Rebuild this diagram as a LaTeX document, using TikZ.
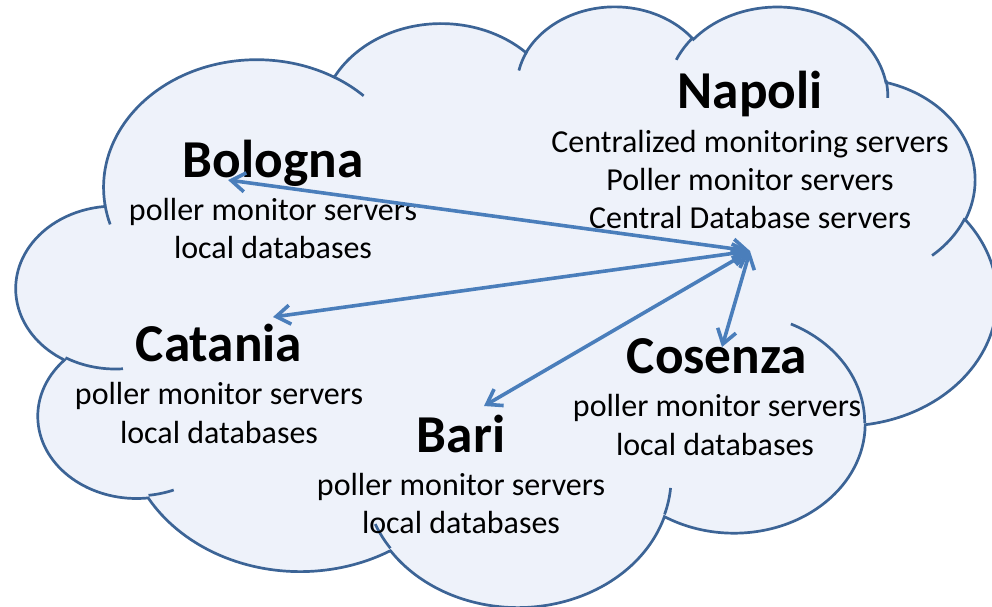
\documentclass[tikz,border=0pt]{standalone}
\usepackage{fontspec}
\setmainfont{Carlito}
\usetikzlibrary{arrows.meta}
\definecolor{cloudfill}{RGB}{238,242,250}
\definecolor{cloudline}{RGB}{60,100,150}
\definecolor{linkblue}{RGB}{74,126,187}
\tikzset{
  ooarc/.style n args={4}{x radius=#1, y radius=#2,
    start angle={atan2((#1)*sin(#3),(#2)*cos(#3))},
    delta angle={mod(atan2((#1)*sin((#3)+(#4)),(#2)*cos((#3)+(#4)))-atan2((#1)*sin(#3),(#2)*cos(#3))+720,360)}},
  cloudbody/.style={fill=cloudfill, draw=cloudline, line width=2.7pt},
  cloudstub/.style={draw=cloudline, line width=2.7pt},
  sitetitle/.style={anchor=base, inner sep=0pt, font=\fontsize{53.3}{64}\selectfont\bfseries},
  siteline/.style={anchor=base, inner sep=0pt, font=\fontsize{32}{39}\selectfont},
  barb/.tip={Straight Barb[length=14pt,width=19pt]},
  link/.style={draw=linkblue, line width=3.6pt, barb-barb}
}
\begin{document}
\begin{tikzpicture}[x=1pt, y=-1pt]
\useasboundingbox (0,0) rectangle (992,606);
\begin{scope}[shift={(16.5,4.9)}, x=22.69pt, y=-13.9pt]
\path[cloudbody] (3.900,14.370)
 arc[ooarc={6.753}{9.190}{-190.4875}{123.7805}]
 arc[ooarc={5.333}{7.267}{-144.1024}{89.9452}]
 arc[ooarc={4.365}{5.945}{-145.8079}{99.7230}]
 arc[ooarc={4.857}{6.595}{-130.9861}{117.2417}]
 arc[ooarc={5.333}{7.273}{-78.7089}{109.0269}]
 arc[ooarc={6.775}{9.220}{-46.2673}{130.2690}]
 arc[ooarc={5.785}{7.867}{0.6250}{114.0333}]
 arc[ooarc={6.752}{9.215}{22.4516}{115.1726}]
 arc[ooarc={7.720}{10.543}{66.2426}{75.7110}]
 arc[ooarc={4.360}{5.918}{-274.9421}{146.7356}]
 arc[ooarc={4.345}{5.945}{-246.8285}{152.5189}]
 -- cycle;
\path[cloudstub]
 (4.693,26.177) arc[ooarc={4.345}{5.945}{86.742}{26.4295}]
 (6.928,34.899) arc[ooarc={4.360}{5.918}{73.6105}{11.4475}]
 (16.478,39.090) arc[ooarc={6.752}{9.215}{137.6241}{14.0811}]
 (28.827,34.751) arc[ooarc={6.752}{9.215}{6.4533}{15.9984}]
 (34.129,22.954) arc[ooarc={5.785}{7.867}{-70.2924}{70.9174}]
 (41.798,15.354) arc[ooarc={5.333}{7.273}{30.3180}{27.7515}]
 (38.324,5.426) arc[ooarc={4.857}{6.595}{-13.7443}{14.8589}]
 (29.078,3.952) arc[ooarc={4.857}{6.595}{-149.1815}{18.1954}]
 (22.141,4.720) arc[ooarc={4.365}{5.945}{-163.4943}{17.6864}]
 (14.000,5.192) arc[ooarc={6.753}{9.190}{-66.7070}{12.3194}]
 (4.127,15.789) arc[ooarc={6.753}{9.190}{157.6544}{11.8582}];
\end{scope}
% Napoli
\node[sitetitle] (napT) at (750,108) {Napoli};
\node[siteline] (nap1) at (750,152) {Centralized monitoring servers};
\node[siteline] (nap2) at (750,190) {Poller monitor servers};
\node[siteline] (nap3) at (750,228) {Central Database servers};
% Bologna
\node[sitetitle] (bolT) at (273,177) {Bologna};
\node[siteline] (bol1) at (273,220) {poller monitor servers};
\node[siteline] (bol2) at (273,258.5) {local databases};
% Catania
\node[sitetitle] (catT) at (219,361) {Catania};
\node[siteline] (cat1) at (219,404.5) {poller monitor servers};
\node[siteline] (cat2) at (219,443) {local databases};
% Bari
\node[sitetitle] (barT) at (461,452) {Bari};
\node[siteline] (bar1) at (461,495.5) {poller monitor servers};
\node[siteline] (bar2) at (461,533.5) {local databases};
% Cosenza
\node[sitetitle] (cosT) at (717,373) {Cosenza};
\node[siteline] (cos1) at (717,416.5) {poller monitor servers};
\node[siteline] (cos2) at (715,455) {local databases};
% connectors
\coordinate (hub) at (750,251);
\coordinate (bolP) at (228,180);
\coordinate (catP) at (273,317);
\coordinate (barP) at (484,406);
\coordinate (cosP) at (722,347);
\draw[link] (hub) -- (bolP);
\draw[link] (hub) -- (catP);
\draw[link] (hub) -- (barP);
\draw[link] (hub) -- (cosP);
\end{tikzpicture}
\end{document}
